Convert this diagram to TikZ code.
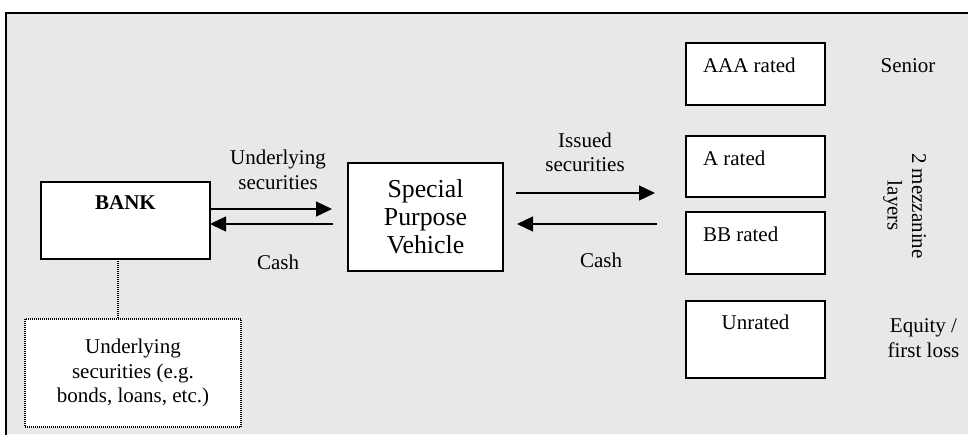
\documentclass[tikz,border=0pt]{standalone}
\usepackage{fontspec}
\setmainfont{Liberation Serif}
\usetikzlibrary{arrows.meta}
\definecolor{panel}{RGB}{232,232,232}
\begin{document}
\begin{tikzpicture}[x=1pt,y=-1pt,
  every node/.style={font=\fontsize{21}{24.5}\selectfont, inner sep=0pt, outer sep=0pt},
  box/.style={draw, line width=1.4pt, fill=white, rectangle},
  dots/.style={line width=1.2pt, dash pattern=on 1pt off 1pt},
  dotbox/.style={draw, dots, fill=white, rectangle},
  arr/.style={line width=1.3pt, -{Triangle[length=16pt,width=15pt]}}]
\useasboundingbox (0,0) rectangle (968,434);

% panel with its frame
\fill[panel] (6,13) rectangle (968,434);
\draw[line width=2.8pt] (6,440) -- (6,13) -- (975,13);

% bank and its assets
\node[box, minimum width=169pt, minimum height=77pt] (bank) at (125.5,220.5) {};
\node[anchor=base, font=\fontsize{21}{24.5}\selectfont\bfseries] (banktxt) at ([yshift=-27pt]bank.north) {BANK};
\node[dotbox, minimum width=216pt, minimum height=108pt, align=center] (assets) at (133,373)
  {Underlying\\securities (e.g.\\bonds, loans, etc.)};
\draw[dots] (bank.south -| 118,0) -- (assets.north -| 118,0);

% special purpose vehicle
\node[box, minimum width=155pt, minimum height=108pt, align=center,
  font=\fontsize{25.8}{28}\selectfont] (spv) at (425.5,217) {Special\\Purpose\\Vehicle};

% tranches
\node[box, minimum width=139pt, minimum height=62pt] (aaa) at (755.5,74) {};
\node[box, minimum width=139pt, minimum height=61pt] (arated) at (755.5,166.5) {};
\node[box, minimum width=139pt, minimum height=62pt] (bb) at (755.5,243) {};
\node[box, minimum width=139pt, minimum height=77pt] (unr) at (755.5,339.5) {};
\node[anchor=base west] (aaatxt) at ([xshift=17pt,yshift=-29pt]aaa.north west) {AAA rated};
\node[anchor=base west] (atxt) at ([xshift=17pt,yshift=-29pt]arated.north west) {A rated};
\node[anchor=base west] (bbtxt) at ([xshift=17pt,yshift=-29pt]bb.north west) {BB rated};
\node[anchor=base] (unrtxt) at ([yshift=-28pt]unr.north) {Unrated};

% tranche classes
\node[anchor=base] (senior) at (908,72) {Senior};
\node[align=center, rotate=-90] (mezz) at (904.5,206) {2 mezzanine\\layers};
\node[align=center] (equity) at (923.5,338) {Equity /\\first loss};

% flows between bank and vehicle
\draw[arr, shorten >=16pt] (bank.east |- 0,209) -- (spv.west |- 0,209);
\draw[arr, shorten <=15pt] (spv.west |- 0,224) -- (bank.east |- 0,224);
\node[align=center] (ulab) at (278,170) {Underlying\\securities};
\node (cashl) at (278,262) {Cash};

% flows between vehicle and investors
\draw[arr, shorten <=13pt, shorten >=31pt] (spv.east |- 0,193) -- (arated.west |- 0,193);
\draw[arr, shorten <=29pt, shorten >=14pt] (arated.west |- 0,224) -- (spv.east |- 0,224);
\node[align=center] (ilab) at (585,152.5) {Issued\\securities};
\node (cashr) at (601,260) {Cash};
\end{tikzpicture}
\end{document}
